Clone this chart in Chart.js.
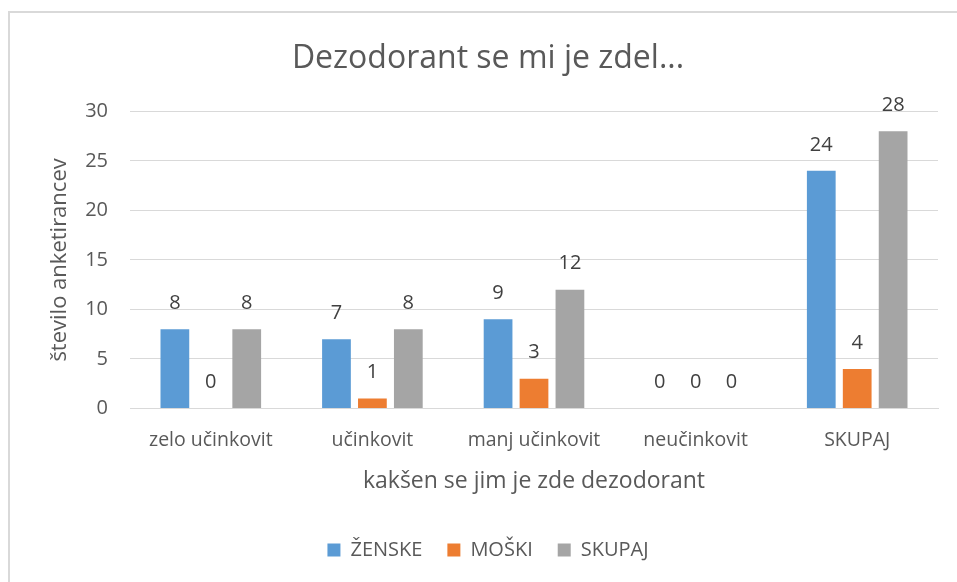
<!DOCTYPE html>
<html>
<head>
<meta charset="utf-8">
<script src="https://cdn.jsdelivr.net/npm/chart.js@4/dist/chart.umd.min.js"></script>
<style>
  html, body { margin: 0; padding: 0; background: #fff; overflow: hidden; }
  #frame {
    position: absolute; left: 8px; top: 11px; width: 970px; height: 600px;
    border: 2px solid #d9d9d9; box-sizing: border-box;
  }
  #wrap { position: absolute; left: 0; top: 0; width: 957px; height: 582px; }
</style>
</head>
<body>
<div id="frame"></div>
<div id="wrap"><canvas id="chart"></canvas></div>
<script>
const categories = ["zelo učinkovit", "učinkovit", "manj učinkovit", "neučinkovit", "SKUPAJ"];
const zenske = [8, 7, 9, 0, 24];
const moski = [0, 1, 3, 0, 4];
const skupaj = [8, 8, 12, 0, 28];
const yTicks = [0, 5, 10, 15, 20, 25, 30];

const FONT = "'Open Sans', 'Liberation Sans', sans-serif";
const GREY_TEXT = "#595959";

// value labels above bars, like excel data labels
const valueLabels = {
  id: "valueLabels",
  afterDatasetsDraw(chart) {
    const ctx = chart.ctx;
    ctx.save();
    ctx.font = "20px " + FONT;
    ctx.fillStyle = "#404040";
    ctx.textAlign = "center";
    ctx.textBaseline = "middle";
    chart.data.datasets.forEach((ds, i) => {
      chart.getDatasetMeta(i).data.forEach((bar, j) => {
        ctx.fillText(String(ds.data[j]), bar.x, bar.y - 26);
      });
    });
    ctx.restore();
  },
};

new Chart(document.querySelector("#chart"), {
  type: "bar",
  data: {
    labels: categories,
    datasets: [
      { label: "ŽENSKE", data: zenske, backgroundColor: "#5b9bd5" },
      { label: "MOŠKI", data: moski, backgroundColor: "#ed7d31" },
      { label: "SKUPAJ", data: skupaj, backgroundColor: "#a5a5a5" },
    ],
  },
  options: {
    responsive: true,
    maintainAspectRatio: false,
    animation: false,
    categoryPercentage: 0.667,
    barPercentage: 0.8,
    layout: { padding: { left: 38, right: 19, top: 0, bottom: 12 } },
    plugins: {
      title: {
        display: true,
        text: "Dezodorant se mi je zdel...",
        color: GREY_TEXT,
        font: { family: FONT, size: 32, weight: "normal" },
        padding: { top: 40, bottom: 33 },
      },
      legend: {
        position: "bottom",
        labels: {
          color: GREY_TEXT,
          font: { family: FONT, size: 20 },
          boxWidth: 13,
          boxHeight: 13,
          padding: 25,
        },
      },
      tooltip: { enabled: false },
    },
    scales: {
      x: {
        afterFit: (scale) => {
          scale.height = 106.5;
        },
        grid: { display: false, drawTicks: false },
        border: { display: true, color: "#d9d9d9" },
        ticks: { color: GREY_TEXT, font: { family: FONT, size: 19.5 }, padding: 20, maxRotation: 0 },
        title: {
          display: true,
          text: "kakšen se jim je zde dezodorant",
          color: GREY_TEXT,
          font: { family: FONT, size: 23 },
          padding: { top: 10, bottom: 19.5 },
        },
      },
      y: {
        min: 0,
        max: 30,
        afterBuildTicks: (scale) => {
          scale.ticks = yTicks.map((v) => ({ value: v }));
        },
        afterFit: (scale) => {
          scale.width = 92;
        },
        grid: { color: "#d9d9d9", drawTicks: false },
        border: { display: false },
        ticks: { color: GREY_TEXT, font: { family: FONT, size: 20 }, padding: 22 },
        title: {
          display: true,
          text: "število anketirancev",
          color: GREY_TEXT,
          font: { family: FONT, size: 22 },
          padding: { top: 9, bottom: 0 },
        },
      },
    },
  },
  plugins: [valueLabels],
});
</script>
</body>
</html>
